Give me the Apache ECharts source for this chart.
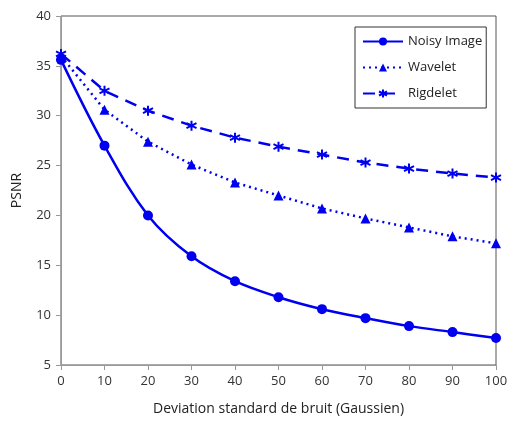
<!DOCTYPE html>
<html>
<head>
<meta charset="utf-8">
<script src="https://cdn.jsdelivr.net/npm/echarts@6/dist/echarts.min.js"></script>
<style>
  html, body { margin: 0; padding: 0; background: #fff; }
  #chart { width: 512px; height: 421px; }
</style>
</head>
<body>
<div id="chart"></div>
<script>
const sigma = [0, 10, 20, 30, 40, 50, 60, 70, 80, 90, 100]
const noisyImage = [35.6, 27.0, 20.0, 15.9, 13.4, 11.8, 10.6, 9.7, 8.9, 8.3, 7.7]
const wavelet = [36.0, 30.6, 27.4, 25.1, 23.3, 22.0, 20.7, 19.7, 18.8, 17.9, 17.2]
const rigdelet = [36.2, 32.5, 30.5, 29.0, 27.8, 26.9, 26.1, 25.3, 24.7, 24.2, 23.8]

const blue = '#0000f0'
const font = 'Open Sans'
const star = 'path://M0,-10L0,10M-8.66,-5L8.66,5M-8.66,5L8.66,-5'

const pairs = (ys) => sigma.map((x, i) => [x, ys[i]])

const chart = echarts.init(document.getElementById('chart'))
chart.setOption({
  animation: false,
  grid: {
    left: 61, right: 16, top: 16, bottom: 54,
    show: true, borderColor: '#555', borderWidth: 1
  },
  legend: {
    orient: 'vertical',
    left: 355, top: 27,
    padding: [8, 4, 8, 7],
    itemGap: 13,
    itemWidth: 40, itemHeight: 10,
    borderColor: '#333', borderWidth: 1,
    textStyle: { fontFamily: font, fontSize: 13, color: '#222' },
    data: ['Noisy Image', 'Wavelet', 'Rigdelet']
  },
  xAxis: {
    type: 'value', min: 0, max: 100, interval: 10,
    name: 'Deviation standard de bruit (Gaussien)',
    nameLocation: 'middle', nameGap: 37,
    nameTextStyle: { fontFamily: font, fontSize: 14, color: '#222' },
    axisLine: { lineStyle: { color: '#999' } },
    axisTick: { show: true, length: 5, lineStyle: { color: '#999' } },
    axisLabel: { fontFamily: font, fontSize: 13, color: '#333', margin: 10 },
    splitLine: { show: false }
  },
  yAxis: {
    type: 'value', min: 5, max: 40, interval: 5,
    name: 'PSNR',
    nameLocation: 'middle', nameGap: 37,
    nameTextStyle: { fontFamily: font, fontSize: 14, color: '#222' },
    axisLine: { show: true, lineStyle: { color: '#999' } },
    axisTick: { show: true, length: 5, lineStyle: { color: '#999' } },
    axisLabel: { fontFamily: font, fontSize: 13, color: '#333', margin: 10 },
    splitLine: { show: false }
  },
  series: [
    {
      name: 'Noisy Image', type: 'line', smooth: 0.35,
      data: pairs(noisyImage),
      symbol: 'circle', symbolSize: 10,
      lineStyle: { color: blue, width: 2.5 },
      itemStyle: { color: blue }
    },
    {
      name: 'Wavelet', type: 'line',
      data: pairs(wavelet),
      symbol: 'triangle', symbolSize: 10,
      lineStyle: { color: blue, width: 2.5, type: [2, 4] },
      itemStyle: { color: blue }
    },
    {
      name: 'Rigdelet', type: 'line',
      data: pairs(rigdelet),
      symbol: star, symbolSize: 10,
      lineStyle: { color: blue, width: 2.5, type: [12, 8] },
      itemStyle: { color: blue, borderColor: blue, borderWidth: 2 }
    }
  ]
})
</script>
</body>
</html>
